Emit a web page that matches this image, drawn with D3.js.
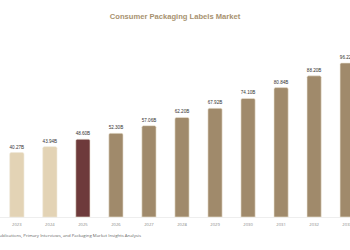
<!DOCTYPE html>
<html>
<head>
<meta charset="utf-8">
<script src="https://cdn.jsdelivr.net/npm/d3@7"></script>
<style>
  body { margin: 0; background: #fff; }
  svg { display: block; font-family: "Liberation Sans", Arial, sans-serif; }
</style>
</head>
<body>
<svg id="chart" width="350" height="250"></svg>
<script>
var years = ["2023", "2024", "2025", "2026", "2027", "2028", "2029", "2030", "2031", "2032", "2033"];
var values = [40.27, 43.94, 48.60, 52.30, 57.06, 62.20, 67.92, 74.10, 80.84, 88.20, 96.22];
var labels = ["40.27B", "43.94B", "48.60B", "52.30B", "57.06B", "62.20B", "67.92B", "74.10B", "80.84B", "88.20B", "96.22B"];
var barColors = ["#e3d3b5", "#e3d3b5", "#6e3a3b", "#a08a6b", "#a08a6b", "#a08a6b", "#a08a6b", "#a08a6b", "#a08a6b", "#a08a6b", "#a08a6b"];

var svg = d3.select("#chart");
var baseY = 217;

var x = d3.scaleBand()
    .domain(years)
    .range([0.5, 363.5])
    .paddingInner(0.57)
    .paddingOuter(0.28);

var y = d3.scaleLinear()
    .domain([0, 96.22])
    .range([baseY, 63]);

// title
svg.append("text")
   .attr("x", 175).attr("y", 18.5)
   .attr("text-anchor", "middle")
   .attr("font-size", "7.6px")
   .attr("font-weight", "bold")
   .attr("fill", "#a8926f")
   .text("Consumer Packaging Labels Market");

// baseline
svg.append("line")
   .attr("x1", 0).attr("x2", 350)
   .attr("y1", baseY + 0.5).attr("y2", baseY + 0.5)
   .attr("stroke", "#eeeeee").attr("stroke-width", 1);

var data = years.map(function(d, i){ return {year: d, value: values[i], label: labels[i], color: barColors[i]}; });

function barPath(d) {
  var x0 = x(d.year), w = x.bandwidth(), y0 = y(d.value), r = 1.5;
  return "M" + x0 + "," + baseY +
         "V" + (y0 + r) +
         "Q" + x0 + "," + y0 + " " + (x0 + r) + "," + y0 +
         "H" + (x0 + w - r) +
         "Q" + (x0 + w) + "," + y0 + " " + (x0 + w) + "," + (y0 + r) +
         "V" + baseY + "Z";
}

svg.append("g").selectAll("path")
   .data(data).enter().append("path")
   .attr("d", barPath)
   .attr("fill", function(d){ return d.color; })
   .attr("stroke", "#efe7d8")
   .attr("stroke-width", 0.6);

svg.append("g").selectAll("text")
   .data(data).enter().append("text")
   .attr("x", function(d){ return x(d.year) + x.bandwidth() / 2; })
   .attr("y", function(d){ return y(d.value) - 4; })
   .attr("text-anchor", "middle")
   .attr("font-size", "4.6px")
   .attr("fill", "#333")
   .text(function(d){ return d.label; });

var xAxis = svg.append("g")
   .attr("transform", "translate(0," + baseY + ")")
   .call(d3.axisBottom(x).tickSize(0).tickPadding(6));
xAxis.select(".domain").remove();
xAxis.selectAll("text")
   .attr("font-size", "4.2px")
   .attr("fill", "#888")
   .attr("font-family", "'Open Sans', sans-serif");

// source note
svg.append("text")
   .attr("x", 141).attr("y", 237)
   .attr("text-anchor", "end")
   .attr("font-size", "4.3px")
   .attr("fill", "#666")
   .attr("font-family", "'Open Sans', sans-serif")
   .text("Source: Secondary Research, Company Publications, Primary Interviews, and Packaging Market Insights Analysis");
</script>
</body>
</html>
